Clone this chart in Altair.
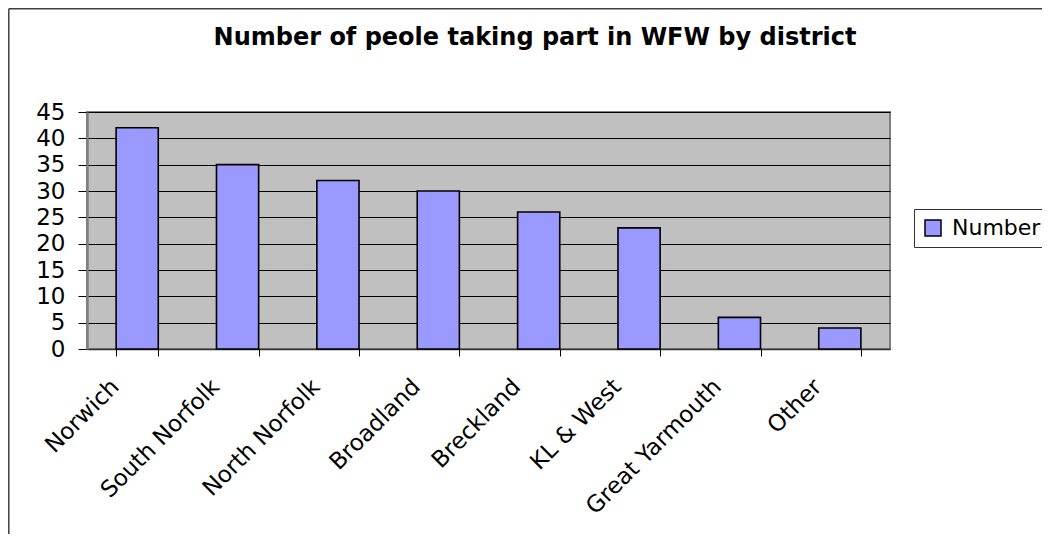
import altair as alt
import pandas as pd

districts = ["Norwich", "South Norfolk", "North Norfolk", "Broadland",
             "Breckland", "KL & West", "Great Yarmouth", "Other"]
numbers = [42, 35, 32, 30, 26, 23, 6, 4]
series_name = "Number"
title_text = "Number of peole taking part in WFW by district"
y_ticks = [0, 5, 10, 15, 20, 25, 30, 35, 40, 45]

df = pd.DataFrame({"district": districts, "number": numbers,
                   "series": [series_name] * len(districts)})

FONT = "DejaVu Sans"

bars = alt.Chart(df).mark_bar(stroke="black", strokeWidth=1.6).encode(
    x=alt.X("district:N", sort=districts,
            scale=alt.Scale(paddingInner=0.58, paddingOuter=0.29),
            axis=alt.Axis(title=None, labelAngle=-45, labelAlign="right",
                          labelBaseline="top", labelFont=FONT, labelFontSize=23,
                          labelColor="black", labelOffset=-30, labelPadding=19,
                          labelLimit=400,
                          tickBand="extent", tickSize=7, tickColor="black",
                          domainColor="#333333", domainWidth=1.5,
                          labelOverlap=False, labelBound=False, grid=False)),
    y=alt.Y("number:Q", scale=alt.Scale(domain=[0, 45], nice=False, zero=True),
            axis=alt.Axis(title=None, values=y_ticks, grid=True, gridColor="black",
                          gridWidth=1, tickSize=9, tickColor="black",
                          labelFont=FONT, labelFontSize=23, labelColor="black",
                          labelPadding=13, domainColor="#808080", domainWidth=2.5)),
    color=alt.Color("series:N",
                    scale=alt.Scale(domain=[series_name], range=["#9999FF"]),
                    legend=alt.Legend(title=None, orient="none", legendX=827, legendY=97,
                                      padding=8, strokeColor="#333333", fillColor="white",
                                      symbolType="square", symbolSize=256,
                                      symbolStrokeColor="black", symbolStrokeWidth=1.5,
                                      labelFont=FONT, labelFontSize=22, labelColor="black",
                                      labelOffset=8, labelLimit=200)),
)

title = alt.Chart(pd.DataFrame({"t": [title_text]})).mark_text(
    font=FONT, fontSize=24, fontWeight="bold", color="black",
    align="center", baseline="alphabetic").encode(
    text="t:N", x=alt.value(448), y=alt.value(-67))

border_left = alt.Chart(pd.DataFrame({"a": [0]})).mark_rule(
    color="#404040", strokeWidth=1.5).encode(
    x=alt.value(-78.2), y=alt.value(-103.2), y2=alt.value(440))
border_top = alt.Chart(pd.DataFrame({"a": [0]})).mark_rule(
    color="#404040", strokeWidth=1.5).encode(
    x=alt.value(-78.2), x2=alt.value(980), y=alt.value(-103.2))

chart = alt.layer(bars, title, border_left, border_top).properties(
    width=803, height=237,
    padding={"left": 79, "top": 104, "right": 152, "bottom": 185},
    autosize=alt.AutoSizeParams(type="none"),
    background="white",
).configure_view(fill="#C0C0C0", stroke="#808080", strokeWidth=2)

chart.save("out.html", embed_options={"renderer": "svg", "actions": False})
